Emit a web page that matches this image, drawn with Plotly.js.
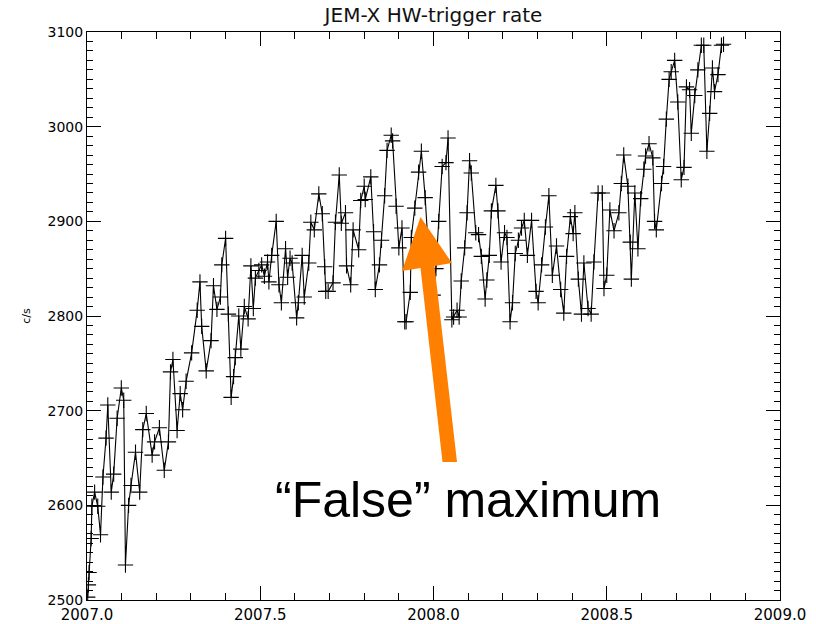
<!DOCTYPE html>
<html>
<head>
<meta charset="utf-8">
<script src="https://cdn.plot.ly/plotly-3.0.1.min.js"></script>
<style>
  html, body { margin: 0; padding: 0; background: #ffffff; }
  #chart { width: 816px; height: 624px; }
</style>
</head>
<body>
<div id="chart"></div>
<script>
// Time of each sample (decimal years)
const timeYears = [
  2007.002, 2007.004, 2007.006, 2007.012, 2007.014, 2007.022, 2007.031, 2007.039, 2007.046, 2007.055,
  2007.060, 2007.070, 2007.077, 2007.087, 2007.099, 2007.106, 2007.111, 2007.120, 2007.127, 2007.140,
  2007.152, 2007.161, 2007.171, 2007.188, 2007.195, 2007.209, 2007.223, 2007.235, 2007.241, 2007.248,
  2007.260, 2007.269, 2007.276, 2007.286, 2007.302, 2007.318, 2007.326, 2007.331, 2007.344, 2007.358,
  2007.365, 2007.375, 2007.385, 2007.389, 2007.400, 2007.408, 2007.416, 2007.423, 2007.428, 2007.438,
  2007.444, 2007.454, 2007.465, 2007.473, 2007.480, 2007.486, 2007.496, 2007.504, 2007.512, 2007.521,
  2007.525, 2007.533, 2007.546, 2007.554, 2007.561, 2007.573, 2007.579, 2007.586, 2007.592, 2007.605,
  2007.610, 2007.621, 2007.627, 2007.640, 2007.646, 2007.656, 2007.669, 2007.679, 2007.686, 2007.689,
  2007.696, 2007.710, 2007.717, 2007.728, 2007.734, 2007.746, 2007.749, 2007.761, 2007.768, 2007.784,
  2007.790, 2007.800, 2007.803, 2007.819, 2007.827, 2007.832, 2007.844, 2007.850, 2007.859, 2007.866,
  2007.878, 2007.882, 2007.892, 2007.900, 2007.909, 2007.917, 2007.921, 2007.933, 2007.936, 2007.946,
  2007.957, 2007.965, 2007.976, 2007.987, 2007.999, 2008.007, 2008.015, 2008.025, 2008.036, 2008.042,
  2008.053, 2008.058, 2008.068, 2008.074, 2008.080, 2008.090, 2008.097, 2008.104, 2008.109, 2008.122,
  2008.130, 2008.138, 2008.149, 2008.154, 2008.161, 2008.167, 2008.180, 2008.186, 2008.195, 2008.205,
  2008.212, 2008.221, 2008.228, 2008.236, 2008.245, 2008.254, 2008.262, 2008.271, 2008.283, 2008.296,
  2008.302, 2008.312, 2008.323, 2008.333, 2008.343, 2008.355, 2008.367, 2008.376, 2008.384, 2008.395,
  2008.403, 2008.408, 2008.418, 2008.427, 2008.434, 2008.446, 2008.455, 2008.463, 2008.475, 2008.487,
  2008.492, 2008.500, 2008.509, 2008.521, 2008.535, 2008.542, 2008.549, 2008.561, 2008.568, 2008.571,
  2008.581, 2008.590, 2008.598, 2008.607, 2008.612, 2008.622, 2008.633, 2008.638, 2008.643, 2008.658,
  2008.664, 2008.672, 2008.680, 2008.686, 2008.696, 2008.705, 2008.715, 2008.723, 2008.730, 2008.739,
  2008.744, 2008.754, 2008.763, 2008.773, 2008.780, 2008.789, 2008.797, 2008.805, 2008.811, 2008.821,
  2008.831, 2008.837
];

// HW-trigger rate (counts per second)
const rateCps = [
  2503, 2516, 2529, 2565, 2599, 2614, 2599, 2569, 2630, 2671,
  2706, 2614, 2633, 2692, 2724, 2711, 2537, 2600, 2621, 2656,
  2614, 2680, 2697, 2653, 2667, 2682, 2637, 2667, 2741, 2754,
  2679, 2718, 2701, 2731, 2761, 2806, 2836, 2789, 2742, 2774,
  2832, 2807, 2820, 2854, 2882, 2802, 2714, 2736, 2756, 2800,
  2765, 2810, 2797, 2853, 2808, 2840, 2848, 2854, 2842, 2857,
  2836, 2864, 2900, 2833, 2814, 2871, 2841, 2861, 2856, 2798,
  2814, 2864, 2820, 2856, 2899, 2891, 2929, 2908, 2852, 2826,
  2826, 2835, 2899, 2949, 2898, 2909, 2853, 2833, 2891, 2870,
  2922, 2937, 2923, 2947, 2889, 2828, 2854, 2880, 2927, 2975,
  2991, 2985, 2916, 2872, 2893, 2794, 2794, 2825, 2883, 2914,
  2952, 2974, 2925, 2860, 2822, 2850, 2900, 2958, 2962, 2988,
  2796, 2799, 2806, 2799, 2837, 2872, 2909, 2964, 2951, 2888,
  2886, 2863, 2818, 2838, 2864, 2911, 2938, 2911, 2857, 2888,
  2883, 2794, 2814, 2866, 2880, 2893, 2901, 2864, 2901, 2826,
  2814, 2854, 2894, 2927, 2843, 2874, 2828, 2803, 2863, 2905,
  2887, 2909, 2839, 2802, 2856, 2808, 2802, 2857, 2930, 2930,
  2829, 2843, 2912, 2890, 2909, 2940, 2970, 2937, 2878, 2839,
  2930, 2871, 2924, 2955, 2969, 2982, 2967, 2900, 2891, 2940,
  2958, 3008, 3050, 3058, 3070, 3026, 2944, 2957, 3042, 3039,
  2993, 3033, 3060, 3086, 3086, 2974, 3014, 3062, 3037, 3055,
  3086, 3087
];

// Axis ticks
const xRange = [2007.0, 2009.0];
const xMajorStep = 0.5;
const xMinorStep = 0.1;
const yRange = [2500, 3100];
const yMajorStep = 100;
const yMinorStep = 10;

const chartTitle = "JEM-X HW-trigger rate";
const yTitle = "c/s";
const calloutText = "\u201CFalse\u201D maximum";

// ---- layout geometry (pixels) ----
const W = 816, H = 624;
const M = { l: 87, r: 36, t: 32, b: 24 };
const PW = W - M.l - M.r, PH = H - M.t - M.b;
const px2paperX = (px) => (px - M.l) / PW;
const py2paperY = (py) => 1 - (py - M.t) / PH;

// orange arrow outline, in pixel space then converted to paper
const arrowPx = [[402, 271], [420.5, 217], [452, 263], [434.5, 266], [457, 462], [442.5, 462], [420.5, 268]];
const arrowPath = arrowPx.map((p, i) => (i === 0 ? "M " : "L ") + px2paperX(p[0]).toFixed(5) + "," + py2paperY(p[1]).toFixed(5)).join(" ") + " Z";

const trace = {
  x: timeYears,
  y: rateCps,
  type: "scatter",
  mode: "lines+markers",
  line: { color: "#000000", width: 1.1 },
  marker: { symbol: "cross-thin-open", size: 11, color: "#000000", line: { color: "#000000", width: 1.1 } },
  hoverinfo: "x+y",
  showlegend: false
};

const axisCommon = {
  showgrid: false,
  zeroline: false,
  showline: true,
  linecolor: "#000000",
  mirror: "ticks",
  ticks: "inside",
  tickcolor: "#000000",
  tickwidth: 1,
  ticklen: 14,
  tickmode: "linear"
};

const layout = {
  width: W,
  height: H,
  margin: M,
  paper_bgcolor: "#ffffff",
  plot_bgcolor: "#ffffff",
  title: {
    text: chartTitle,
    font: { family: "DejaVu Sans", size: 20, color: "#111111" },
    x: 0.5, xref: "paper",
    y: 1 - 15 / H, yref: "container", yanchor: "middle"
  },
  xaxis: Object.assign({}, axisCommon, {
    range: xRange,
    tick0: xRange[0],
    dtick: xMajorStep,
    tickformat: ".1f",
    ticklabelstandoff: 1,
    tickfont: { family: "DejaVu Sans", size: 15, color: "#000000" },
    minor: { tickmode: "linear", tick0: xRange[0], dtick: xMinorStep, ticks: "inside", ticklen: 7, tickcolor: "#000000", tickwidth: 1 }
  }),
  yaxis: Object.assign({}, axisCommon, {
    range: yRange,
    tick0: yRange[0],
    dtick: yMajorStep,
    tickformat: "d",
    tickfont: { family: "DejaVu Sans", size: 14, color: "#000000" },
    title: { text: yTitle, font: { family: "DejaVu Sans", size: 11, color: "#000000" }, standoff: 14 },
    minor: { tickmode: "linear", tick0: yRange[0], dtick: yMinorStep, ticks: "inside", ticklen: 6, tickcolor: "#000000", tickwidth: 1 }
  }),
  shapes: [
    {
      type: "path",
      xref: "paper",
      yref: "paper",
      path: arrowPath,
      fillcolor: "#ff8000",
      line: { width: 0 },
      layer: "above"
    }
  ],
  annotations: [
    {
      text: calloutText,
      xref: "paper", yref: "paper",
      x: px2paperX(467.5), y: py2paperY(500),
      xanchor: "center", yanchor: "middle",
      showarrow: false,
      font: { family: "Liberation Sans", size: 50, color: "#000000" }
    }
  ]
};

Plotly.newPlot("chart", [trace], layout, { displayModeBar: false, staticPlot: true });
</script>
</body>
</html>
